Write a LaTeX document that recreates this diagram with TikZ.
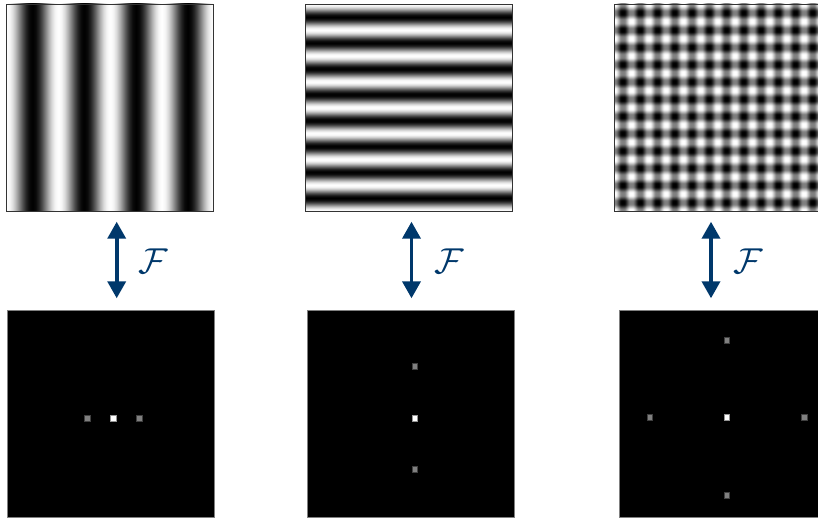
\documentclass[tikz,border=0pt]{standalone}
\usetikzlibrary{arrows.meta}
\definecolor{navy}{RGB}{0,56,107}

\newcommand\buildgrating[2]{%
  \xdef\gspec{rgb(0bp)=(1,1,1); }%
  \pgfmathtruncatemacro\gnst{#1*16}%
  \foreach \gi in {0,...,\gnst}{%
    \pgfmathsetmacro\gpos{25+50*\gi/\gnst}%
    \pgfmathsetmacro\gval{max(0,min(1,0.5+#2*cos(22.5*\gi)))}%
    \xdef\gspec{\gspec rgb(\gpos bp)=(\gval,\gval,\gval); }%
  }%
  \xdef\gspec{\gspec rgb(100bp)=(1,1,1)}%
}
\buildgrating{4}{0.5}
\edef\gtmp{\noexpand\pgfdeclarehorizontalshading{vgfour}{100bp}{\gspec}}\gtmp
\buildgrating{8}{0.5}
\edef\gtmp{\noexpand\pgfdeclareverticalshading{hgeight}{100bp}{\gspec}}\gtmp
\buildgrating{12}{0.62}
\edef\gtmp{\noexpand\pgfdeclarehorizontalshading{vgtwelve}{100bp}{\gspec}}\gtmp
\edef\gtmp{\noexpand\pgfdeclareverticalshading{hgtwelve}{100bp}{\gspec}}\gtmp

\tikzset{
  toppanel/.style={rectangle, inner sep=0pt, outer sep=0pt, minimum size=207pt,
    draw=black!80, line width=0.9pt, shade},
  botpanel/.style={rectangle, inner sep=0pt, outer sep=0pt, minimum size=207pt,
    fill=black, draw=black!50, line width=0.8pt},
  sdot/.style={rectangle, inner sep=0pt, minimum size=5.8pt, fill=black!50,
    draw=black!75, line width=1pt},
  cdot/.style={rectangle, inner sep=0pt, minimum size=5.8pt, fill=white,
    draw=black!42, line width=1pt},
  farrow/.style={draw=navy, line width=3.7pt,
    {Triangle[width=18pt,length=17pt]}-{Triangle[width=18pt,length=17pt]}},
  flabel/.style={text=navy, scale=3.6, inner sep=0pt},
}

\begin{document}
\begin{tikzpicture}[x=1pt,y=-1pt]
\path[use as bounding box] (0,0) rectangle (818,519);
\clip (0,0) rectangle (818,519);

% top panels
\node[toppanel, shading=vgfour] (top1) at (110,107.5) {};
\node[toppanel, shading=hgeight] (top2) at (408.5,107.5) {};
\node[toppanel, shading=vgtwelve,
  path picture={\shade[shading=hgtwelve, fill opacity=0.5]
    (path picture bounding box.south west) rectangle (path picture bounding box.north east);}]
  (top3) at (717.5,107.5) {};

% bottom panels
\node[botpanel] (bot1) at (110.5,414) {};
\node[botpanel] (bot2) at (411,414) {};
\node[botpanel] (bot3) at (723,414) {};

% spectra
\node[sdot] (d1l) at (87.8,418.5) {};
\node[cdot] (d1c) at (113.7,418.5) {};
\node[sdot] (d1r) at (139.6,418.5) {};

\node[sdot] (d2t) at (415,366.7) {};
\node[cdot] (d2c) at (415,418.3) {};
\node[sdot] (d2b) at (415,469.6) {};

\node[sdot] (d3l) at (650,417.8) {};
\node[sdot] (d3r) at (804.3,417.8) {};
\node[cdot] (d3c) at (727,417.8) {};
\node[sdot] (d3t) at (727,340.3) {};
\node[sdot] (d3b) at (727,495.3) {};

% arrows
\coordinate (a1t) at (116.7,221.7);
\coordinate (a1b) at (116.7,298.3);
\coordinate (a2t) at (411.5,221.7);
\coordinate (a2b) at (411.5,298.3);
\coordinate (a3t) at (711,221.7);
\coordinate (a3b) at (711,298.3);
\draw[farrow] (a1t) -- (a1b);
\draw[farrow] (a2t) -- (a2b);
\draw[farrow] (a3t) -- (a3b);

\node[flabel] (f1) at (153.7,260.8) {$\mathcal{F}$};
\node[flabel] (f2) at (449.5,260.8) {$\mathcal{F}$};
\node[flabel] (f3) at (748,260.8) {$\mathcal{F}$};
\end{tikzpicture}
\end{document}
